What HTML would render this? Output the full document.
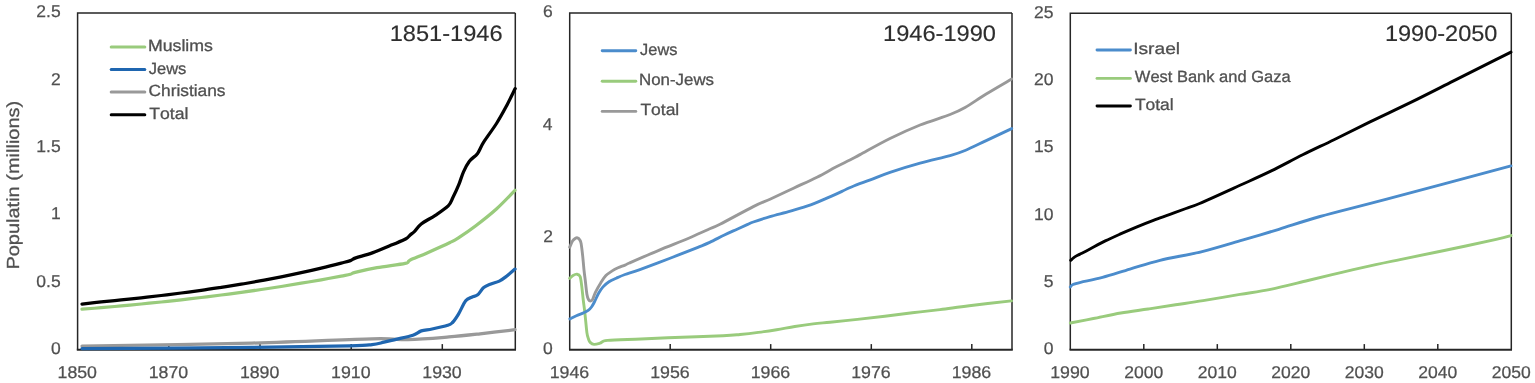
<!DOCTYPE html>
<html><head><meta charset="utf-8"><title>Population charts</title>
<style>
html,body{margin:0;padding:0;background:#fff;}
body{width:1535px;height:383px;overflow:hidden;}
svg{display:block;}
text{font-family:"Liberation Sans", "DejaVu Sans", sans-serif;font-kerning:none;text-rendering:geometricPrecision;}
.ax{font-size:17px;fill:#505050;stroke:#505050;stroke-width:0.25px;}
.ti{font-size:22.5px;fill:#2e2e2e;stroke:#2e2e2e;stroke-width:0.15px;}
.lg{font-size:16.2px;fill:#505050;stroke:#505050;stroke-width:0.3px;}
.yt{font-size:17.5px;fill:#505050;stroke:#555;stroke-width:0.3px;}
</style></head>
<body>
<svg width="1535" height="383" viewBox="0 0 1535 383">
<rect x="0" y="0" width="1535" height="383" fill="#fff"/>
<text x="50.95" y="354.10" class="ax" textLength="9.74" lengthAdjust="spacingAndGlyphs">0</text>
<text x="36.39" y="286.76" class="ax" textLength="24.34" lengthAdjust="spacingAndGlyphs">0.5</text>
<text x="51.12" y="219.42" class="ax" textLength="9.74" lengthAdjust="spacingAndGlyphs">1</text>
<text x="36.39" y="152.08" class="ax" textLength="24.34" lengthAdjust="spacingAndGlyphs">1.5</text>
<text x="51.14" y="84.74" class="ax" textLength="9.74" lengthAdjust="spacingAndGlyphs">2</text>
<text x="36.39" y="17.40" class="ax" textLength="24.34" lengthAdjust="spacingAndGlyphs">2.5</text>
<text x="57.55" y="378.20" class="ax" textLength="39.44" lengthAdjust="spacingAndGlyphs">1850</text>
<text x="148.74" y="378.20" class="ax" textLength="39.44" lengthAdjust="spacingAndGlyphs">1870</text>
<line x1="168.8" y1="349.7" x2="168.8" y2="344.1" stroke="#262626" stroke-width="1.5"/>
<text x="239.92" y="378.20" class="ax" textLength="39.44" lengthAdjust="spacingAndGlyphs">1890</text>
<line x1="260.0" y1="349.7" x2="260.0" y2="344.1" stroke="#262626" stroke-width="1.5"/>
<text x="331.11" y="378.20" class="ax" textLength="39.44" lengthAdjust="spacingAndGlyphs">1910</text>
<line x1="351.2" y1="349.7" x2="351.2" y2="344.1" stroke="#262626" stroke-width="1.5"/>
<text x="422.30" y="378.20" class="ax" textLength="39.44" lengthAdjust="spacingAndGlyphs">1930</text>
<line x1="442.3" y1="349.7" x2="442.3" y2="344.1" stroke="#262626" stroke-width="1.5"/>
<text x="543.05" y="354.10" class="ax" textLength="9.74" lengthAdjust="spacingAndGlyphs">0</text>
<text x="543.24" y="241.87" class="ax" textLength="9.74" lengthAdjust="spacingAndGlyphs">2</text>
<text x="542.87" y="129.63" class="ax" textLength="9.74" lengthAdjust="spacingAndGlyphs">4</text>
<text x="543.13" y="17.40" class="ax" textLength="9.74" lengthAdjust="spacingAndGlyphs">6</text>
<text x="549.65" y="378.20" class="ax" textLength="39.53" lengthAdjust="spacingAndGlyphs">1946</text>
<text x="650.17" y="378.20" class="ax" textLength="39.53" lengthAdjust="spacingAndGlyphs">1956</text>
<line x1="670.2" y1="349.7" x2="670.2" y2="344.1" stroke="#262626" stroke-width="1.5"/>
<text x="750.69" y="378.20" class="ax" textLength="39.53" lengthAdjust="spacingAndGlyphs">1966</text>
<line x1="770.7" y1="349.7" x2="770.7" y2="344.1" stroke="#262626" stroke-width="1.5"/>
<text x="851.21" y="378.20" class="ax" textLength="39.53" lengthAdjust="spacingAndGlyphs">1976</text>
<line x1="871.3" y1="349.7" x2="871.3" y2="344.1" stroke="#262626" stroke-width="1.5"/>
<text x="951.74" y="378.20" class="ax" textLength="39.53" lengthAdjust="spacingAndGlyphs">1986</text>
<line x1="971.8" y1="349.7" x2="971.8" y2="344.1" stroke="#262626" stroke-width="1.5"/>
<text x="1043.65" y="354.10" class="ax" textLength="9.74" lengthAdjust="spacingAndGlyphs">0</text>
<text x="1043.70" y="286.80" class="ax" textLength="9.74" lengthAdjust="spacingAndGlyphs">5</text>
<text x="1033.91" y="219.50" class="ax" textLength="19.48" lengthAdjust="spacingAndGlyphs">10</text>
<text x="1033.96" y="152.20" class="ax" textLength="19.48" lengthAdjust="spacingAndGlyphs">15</text>
<text x="1033.91" y="84.90" class="ax" textLength="19.48" lengthAdjust="spacingAndGlyphs">20</text>
<text x="1033.96" y="17.60" class="ax" textLength="19.48" lengthAdjust="spacingAndGlyphs">25</text>
<text x="1050.25" y="378.20" class="ax" textLength="39.44" lengthAdjust="spacingAndGlyphs">1990</text>
<text x="1124.22" y="378.20" class="ax" textLength="38.97" lengthAdjust="spacingAndGlyphs">2000</text>
<line x1="1143.8" y1="349.7" x2="1143.8" y2="344.1" stroke="#262626" stroke-width="1.5"/>
<text x="1197.72" y="378.20" class="ax" textLength="38.97" lengthAdjust="spacingAndGlyphs">2010</text>
<line x1="1217.3" y1="349.7" x2="1217.3" y2="344.1" stroke="#262626" stroke-width="1.5"/>
<text x="1271.22" y="378.20" class="ax" textLength="38.97" lengthAdjust="spacingAndGlyphs">2020</text>
<line x1="1290.8" y1="349.7" x2="1290.8" y2="344.1" stroke="#262626" stroke-width="1.5"/>
<text x="1344.72" y="378.20" class="ax" textLength="38.97" lengthAdjust="spacingAndGlyphs">2030</text>
<line x1="1364.3" y1="349.7" x2="1364.3" y2="344.1" stroke="#262626" stroke-width="1.5"/>
<text x="1418.22" y="378.20" class="ax" textLength="38.97" lengthAdjust="spacingAndGlyphs">2040</text>
<line x1="1437.8" y1="349.7" x2="1437.8" y2="344.1" stroke="#262626" stroke-width="1.5"/>
<text x="1491.72" y="378.20" class="ax" textLength="38.97" lengthAdjust="spacingAndGlyphs">2050</text>
<path d="M77.6,349.7 L77.6,13.0 L515.3,13.0" fill="none" stroke="#262626" stroke-width="1.5"/>
<path d="M515.3,13.0 L515.3,349.7" fill="none" stroke="#262626" stroke-width="1.5"/>
<path d="M76.8,349.7 L516.0,349.7" fill="none" stroke="#262626" stroke-width="2"/>
<path d="M569.7,349.7 L569.7,13.0 L1012.0,13.0" fill="none" stroke="#262626" stroke-width="1.5"/>
<path d="M1012.0,13.0 L1012.0,349.7" fill="none" stroke="#262626" stroke-width="1.5"/>
<path d="M569.0,349.7 L1012.8,349.7" fill="none" stroke="#262626" stroke-width="2"/>
<path d="M1070.3,349.7 L1070.3,13.2 L1511.3,13.2" fill="none" stroke="#262626" stroke-width="1.5"/>
<path d="M1511.3,13.2 L1511.3,349.7" fill="none" stroke="#262626" stroke-width="1.5"/>
<path d="M1069.5,349.7 L1512.0,349.7" fill="none" stroke="#262626" stroke-width="2"/>
<path d="M82.00,346.00 C110.32,345.52 203.57,344.30 251.90,343.10 C300.23,341.90 345.98,339.38 372.00,338.80 C398.02,338.22 395.18,339.92 408.00,339.60 C420.82,339.28 436.88,337.87 448.90,336.90 C460.92,335.93 469.08,335.00 480.10,333.80 C491.12,332.60 509.18,330.38 515.00,329.70" fill="none" stroke="#999999" stroke-width="3.25" stroke-linejoin="round" stroke-linecap="round"/>
<path d="M82.00,348.60 C110.32,348.40 207.30,347.87 251.90,347.40 C296.50,346.93 329.58,346.27 349.60,345.80 C369.62,345.33 366.27,345.20 372.00,344.60 C377.73,344.00 380.00,343.08 384.00,342.20 C388.00,341.32 391.18,340.47 396.00,339.30 C400.82,338.13 408.68,336.60 412.90,335.20 C417.12,333.80 418.10,331.93 421.30,330.90 C424.50,329.87 427.70,329.93 432.10,329.00 C436.50,328.07 444.30,326.38 447.70,325.30 C451.10,324.22 450.70,324.37 452.50,322.50 C454.30,320.63 456.30,317.72 458.50,314.10 C460.70,310.48 463.50,303.62 465.70,300.80 C467.90,297.98 469.70,298.20 471.70,297.20 C473.70,296.20 475.70,296.40 477.70,294.80 C479.70,293.20 481.50,289.40 483.70,287.60 C485.90,285.80 488.30,285.08 490.90,284.00 C493.50,282.92 496.70,282.38 499.30,281.10 C501.90,279.82 503.88,278.30 506.50,276.30 C509.12,274.30 513.58,270.30 515.00,269.10" fill="none" stroke="#1f66b0" stroke-width="3.25" stroke-linejoin="round" stroke-linecap="round"/>
<path d="M82.00,309.20 C85.20,308.95 94.67,308.25 101.20,307.70 C107.73,307.15 114.53,306.52 121.20,305.90 C127.87,305.28 134.53,304.65 141.20,304.00 C147.87,303.35 154.53,302.70 161.20,302.00 C167.87,301.30 174.53,300.55 181.20,299.80 C187.87,299.05 194.53,298.30 201.20,297.50 C207.87,296.70 214.53,295.85 221.20,295.00 C227.87,294.15 234.53,293.32 241.20,292.40 C247.87,291.48 254.53,290.48 261.20,289.50 C267.87,288.52 274.53,287.55 281.20,286.50 C287.87,285.45 294.53,284.32 301.20,283.20 C307.87,282.08 314.53,280.98 321.20,279.80 C327.87,278.62 336.33,277.02 341.20,276.10 C346.07,275.18 348.08,274.93 350.40,274.30 C352.72,273.67 350.67,273.42 355.10,272.30 C359.53,271.18 368.65,269.08 377.00,267.60 C385.35,266.12 399.72,264.63 405.20,263.40 C410.68,262.17 406.25,261.95 409.90,260.20 C413.55,258.45 420.42,255.85 427.10,252.90 C433.78,249.95 444.72,245.05 450.00,242.50 C455.28,239.95 454.50,240.40 458.80,237.60 C463.10,234.80 469.48,230.52 475.80,225.70 C482.12,220.88 490.17,214.60 496.70,208.70 C503.23,202.80 511.95,193.37 515.00,190.30" fill="none" stroke="#99cb7c" stroke-width="3.25" stroke-linejoin="round" stroke-linecap="round"/>
<path d="M82.00,304.10 C85.20,303.73 94.67,302.60 101.20,301.90 C107.73,301.20 114.53,300.58 121.20,299.90 C127.87,299.22 134.53,298.53 141.20,297.80 C147.87,297.07 154.53,296.30 161.20,295.50 C167.87,294.70 174.53,293.85 181.20,293.00 C187.87,292.15 194.53,291.33 201.20,290.40 C207.87,289.47 214.53,288.43 221.20,287.40 C227.87,286.37 234.53,285.32 241.20,284.20 C247.87,283.08 254.53,281.92 261.20,280.70 C267.87,279.48 274.53,278.23 281.20,276.90 C287.87,275.57 294.53,274.17 301.20,272.70 C307.87,271.23 314.53,269.70 321.20,268.10 C327.87,266.50 336.33,264.35 341.20,263.10 C346.07,261.85 347.97,261.47 350.40,260.60 C352.83,259.73 352.15,259.18 355.80,257.90 C359.45,256.62 366.15,255.12 372.30,252.90 C378.45,250.68 387.08,246.95 392.70,244.60 C398.32,242.25 403.13,240.37 406.00,238.80 C408.87,237.23 408.47,236.45 409.90,235.20 C411.33,233.95 412.72,233.17 414.60,231.30 C416.48,229.43 417.75,226.67 421.20,224.00 C424.65,221.33 430.80,218.32 435.30,215.30 C439.80,212.28 445.27,208.85 448.20,205.90 C451.13,202.95 451.13,201.13 452.90,197.60 C454.67,194.07 457.03,189.00 458.80,184.70 C460.57,180.40 461.73,175.72 463.50,171.80 C465.27,167.88 467.05,164.27 469.40,161.20 C471.75,158.13 475.25,156.53 477.60,153.40 C479.95,150.27 480.35,147.38 483.50,142.40 C486.65,137.42 492.77,129.38 496.50,123.50 C500.23,117.62 502.78,112.92 505.90,107.10 C509.02,101.28 513.65,91.68 515.20,88.60" fill="none" stroke="#000000" stroke-width="3.25" stroke-linejoin="round" stroke-linecap="round"/>
<path d="M569.70,278.40 C570.25,277.92 571.78,276.20 573.00,275.50 C574.22,274.80 575.82,274.03 577.00,274.20 C578.18,274.37 579.32,274.55 580.10,276.50 C580.88,278.45 581.18,282.07 581.70,285.90 C582.22,289.73 582.67,294.97 583.20,299.50 C583.73,304.03 584.28,307.58 584.90,313.10 C585.52,318.62 586.30,328.28 586.90,332.60 C587.50,336.92 587.95,337.37 588.50,339.00 C589.05,340.63 589.27,341.50 590.20,342.40 C591.13,343.30 592.47,344.27 594.10,344.40 C595.73,344.53 597.77,343.87 600.00,343.20 C602.23,342.53 600.67,341.10 607.50,340.40 C614.33,339.70 628.57,339.53 641.00,339.00 C653.43,338.47 668.42,337.73 682.10,337.20 C695.78,336.67 713.45,336.25 723.10,335.80 C732.75,335.35 734.13,335.07 740.00,334.50 C745.87,333.93 752.20,333.20 758.30,332.40 C764.40,331.60 770.52,330.68 776.60,329.70 C782.68,328.72 788.72,327.47 794.80,326.50 C800.88,325.53 807.23,324.62 813.10,323.90 C818.97,323.18 822.62,322.95 830.00,322.20 C837.38,321.45 848.27,320.40 857.40,319.40 C866.53,318.40 875.65,317.30 884.80,316.20 C893.95,315.10 903.10,313.90 912.30,312.80 C921.50,311.70 930.52,310.78 940.00,309.60 C949.48,308.42 957.28,307.15 969.20,305.70 C981.12,304.25 1004.45,301.70 1011.50,300.90" fill="none" stroke="#99cb7c" stroke-width="2.9" stroke-linejoin="round" stroke-linecap="round"/>
<path d="M569.90,318.90 C570.98,318.37 574.22,316.67 576.40,315.70 C578.58,314.73 581.03,313.98 583.00,313.10 C584.97,312.22 586.78,311.42 588.20,310.40 C589.62,309.38 590.47,308.40 591.50,307.00 C592.53,305.60 593.22,304.28 594.40,302.00 C595.58,299.72 597.20,295.78 598.60,293.30 C600.00,290.82 601.07,289.02 602.80,287.10 C604.53,285.18 606.75,283.28 609.00,281.80 C611.25,280.32 613.63,279.42 616.30,278.20 C618.97,276.98 621.18,275.90 625.00,274.50 C628.82,273.10 631.80,272.47 639.20,269.80 C646.60,267.13 659.62,262.25 669.40,258.50 C679.18,254.75 691.18,249.98 697.90,247.30 C704.62,244.62 705.28,244.45 709.70,242.40 C714.12,240.35 719.83,237.20 724.40,235.00 C728.97,232.80 733.22,230.97 737.10,229.20 C740.98,227.43 745.00,225.60 747.70,224.40 C750.40,223.20 749.58,223.30 753.30,222.00 C757.02,220.70 763.82,218.42 770.00,216.60 C776.18,214.78 783.62,213.05 790.40,211.10 C797.18,209.15 803.65,207.48 810.70,204.90 C817.75,202.32 825.90,198.58 832.70,195.60 C839.50,192.62 845.23,189.62 851.50,187.00 C857.77,184.38 863.88,182.35 870.30,179.90 C876.72,177.45 881.70,175.10 890.00,172.30 C898.30,169.50 910.08,165.88 920.10,163.10 C930.12,160.32 942.60,157.70 950.10,155.60 C957.60,153.50 959.08,153.00 965.10,150.50 C971.12,148.00 978.43,144.25 986.20,140.60 C993.97,136.95 1007.45,130.60 1011.70,128.60" fill="none" stroke="#4b8ccc" stroke-width="2.9" stroke-linejoin="round" stroke-linecap="round"/>
<path d="M569.70,247.20 C570.17,246.17 571.53,242.50 572.50,241.00 C573.47,239.50 574.67,238.73 575.50,238.20 C576.33,237.67 576.83,237.58 577.50,237.80 C578.17,238.02 578.90,238.53 579.50,239.50 C580.10,240.47 580.57,240.83 581.10,243.60 C581.63,246.37 582.22,251.70 582.70,256.10 C583.18,260.50 583.57,265.90 584.00,270.00 C584.43,274.10 584.82,276.67 585.30,280.70 C585.78,284.73 586.37,291.07 586.90,294.20 C587.43,297.33 587.90,298.37 588.50,299.50 C589.10,300.63 589.83,300.98 590.50,301.00 C591.17,301.02 591.68,301.05 592.50,299.60 C593.32,298.15 594.03,295.08 595.40,292.30 C596.77,289.52 598.95,285.68 600.70,282.90 C602.45,280.12 603.98,277.60 605.90,275.60 C607.82,273.60 610.18,272.20 612.20,270.90 C614.22,269.60 615.87,268.77 618.00,267.80 C620.13,266.83 623.10,265.90 625.00,265.10 C626.90,264.30 623.77,265.47 629.40,263.00 C635.03,260.53 649.02,254.38 658.80,250.30 C668.58,246.22 679.95,241.93 688.10,238.50 C696.25,235.07 702.38,232.07 707.70,229.70 C713.02,227.33 712.40,228.15 720.00,224.30 C727.60,220.45 744.97,210.78 753.30,206.60 C761.63,202.42 763.30,202.27 770.00,199.20 C776.70,196.13 785.67,191.87 793.50,188.20 C801.33,184.53 809.95,180.73 817.00,177.20 C824.05,173.67 830.32,169.87 835.80,167.00 C841.28,164.13 845.87,162.07 849.90,160.00 C853.93,157.93 853.32,158.18 860.00,154.60 C866.68,151.02 879.98,143.43 890.00,138.50 C900.02,133.57 910.08,129.00 920.10,125.00 C930.12,121.00 942.60,117.42 950.10,114.50 C957.60,111.58 959.08,110.92 965.10,107.50 C971.12,104.08 978.43,98.75 986.20,94.00 C993.97,89.25 1007.45,81.50 1011.70,79.00" fill="none" stroke="#999999" stroke-width="2.9" stroke-linejoin="round" stroke-linecap="round"/>
<path d="M1070.30,323.00 C1074.15,322.25 1084.98,320.17 1093.40,318.50 C1101.82,316.83 1111.67,314.58 1120.80,313.00 C1129.93,311.42 1139.07,310.37 1148.20,309.00 C1157.33,307.63 1166.45,306.20 1175.60,304.80 C1184.75,303.40 1192.37,302.33 1203.10,300.60 C1213.83,298.87 1228.77,296.28 1240.00,294.40 C1251.23,292.52 1259.18,291.62 1270.50,289.30 C1281.82,286.98 1296.02,283.33 1307.90,280.50 C1319.78,277.67 1330.50,274.93 1341.80,272.30 C1353.10,269.67 1366.00,266.82 1375.70,264.70 C1385.40,262.58 1388.57,261.97 1400.00,259.60 C1411.43,257.23 1428.27,253.87 1444.30,250.50 C1460.33,247.13 1485.08,241.88 1496.20,239.40 C1507.32,236.92 1508.53,236.23 1511.00,235.60" fill="none" stroke="#99cb7c" stroke-width="2.9" stroke-linejoin="round" stroke-linecap="round"/>
<path d="M1070.30,287.00 C1070.75,286.58 1071.28,285.28 1073.00,284.50 C1074.72,283.72 1075.68,283.48 1080.60,282.30 C1085.52,281.12 1094.27,279.60 1102.50,277.40 C1110.73,275.20 1120.42,271.95 1130.00,269.10 C1139.58,266.25 1147.98,263.22 1160.00,260.30 C1172.02,257.38 1188.38,254.95 1202.10,251.60 C1215.82,248.25 1229.50,243.92 1242.30,240.20 C1255.10,236.48 1265.95,233.25 1278.90,229.30 C1291.85,225.35 1302.03,221.53 1320.00,216.50 C1337.97,211.47 1354.87,207.53 1386.70,199.10 C1418.53,190.67 1490.28,171.43 1511.00,165.90" fill="none" stroke="#4b8ccc" stroke-width="2.9" stroke-linejoin="round" stroke-linecap="round"/>
<path d="M1070.70,260.40 C1071.22,259.93 1072.63,258.45 1073.80,257.60 C1074.97,256.75 1076.38,256.02 1077.70,255.30 C1079.02,254.58 1079.65,254.35 1081.70,253.30 C1083.75,252.25 1086.07,251.07 1090.00,249.00 C1093.93,246.93 1100.22,243.42 1105.30,240.90 C1110.38,238.38 1115.22,236.25 1120.50,233.90 C1125.78,231.55 1131.52,229.07 1137.00,226.80 C1142.48,224.53 1147.90,222.37 1153.40,220.30 C1158.90,218.23 1164.57,216.37 1170.00,214.40 C1175.43,212.43 1181.07,210.32 1186.00,208.50 C1190.93,206.68 1190.60,207.37 1199.60,203.50 C1208.60,199.63 1228.05,190.73 1240.00,185.30 C1251.95,179.87 1260.85,175.98 1271.30,170.90 C1281.75,165.82 1292.25,160.00 1302.70,154.80 C1313.15,149.60 1322.78,145.18 1334.00,139.70 C1345.22,134.22 1357.03,128.20 1370.00,121.90 C1382.97,115.60 1397.87,108.73 1411.80,101.90 C1425.73,95.07 1439.67,87.90 1453.60,80.90 C1467.53,73.90 1485.83,64.70 1495.40,59.90 C1504.97,55.10 1508.40,53.40 1511.00,52.10" fill="none" stroke="#000000" stroke-width="2.9" stroke-linejoin="round" stroke-linecap="round"/>
<text x="389.70" y="41.30" class="ti" textLength="112.83" lengthAdjust="spacingAndGlyphs">1851-1946</text>
<text x="883.10" y="41.30" class="ti" textLength="112.82" lengthAdjust="spacingAndGlyphs">1946-1990</text>
<text x="1384.91" y="41.30" class="ti" textLength="112.51" lengthAdjust="spacingAndGlyphs">1990-2050</text>
<line x1="111.2" y1="47.0" x2="144.8" y2="47.0" stroke="#99cb7c" stroke-width="3.0" stroke-linecap="round"/>
<text x="147.95" y="51.20" class="lg" textLength="64.99" lengthAdjust="spacingAndGlyphs">Muslims</text>
<line x1="111.2" y1="69.6" x2="144.8" y2="69.6" stroke="#1f66b0" stroke-width="3.0" stroke-linecap="round"/>
<text x="148.74" y="73.80" class="lg" textLength="37.66" lengthAdjust="spacingAndGlyphs">Jews</text>
<line x1="111.2" y1="92.1" x2="144.8" y2="92.1" stroke="#999999" stroke-width="3.0" stroke-linecap="round"/>
<text x="148.52" y="96.30" class="lg" textLength="77.01" lengthAdjust="spacingAndGlyphs">Christians</text>
<line x1="111.2" y1="114.7" x2="144.8" y2="114.7" stroke="#000000" stroke-width="3.0" stroke-linecap="round"/>
<text x="149.20" y="118.90" class="lg" textLength="39.17" lengthAdjust="spacingAndGlyphs">Total</text>
<line x1="602.2" y1="50.8" x2="635.8" y2="50.8" stroke="#4b8ccc" stroke-width="2.9" stroke-linecap="round"/>
<text x="640.14" y="54.70" class="lg" textLength="37.25" lengthAdjust="spacingAndGlyphs">Jews</text>
<line x1="602.2" y1="81.3" x2="635.8" y2="81.3" stroke="#99cb7c" stroke-width="2.9" stroke-linecap="round"/>
<text x="639.02" y="85.20" class="lg" textLength="74.99" lengthAdjust="spacingAndGlyphs">Non-Jews</text>
<line x1="602.2" y1="111.4" x2="635.8" y2="111.4" stroke="#999999" stroke-width="2.9" stroke-linecap="round"/>
<text x="640.41" y="115.30" class="lg" textLength="38.86" lengthAdjust="spacingAndGlyphs">Total</text>
<line x1="1097.0" y1="50.0" x2="1130.4" y2="50.0" stroke="#4b8ccc" stroke-width="2.9" stroke-linecap="round"/>
<text x="1133.23" y="53.90" class="lg" textLength="46.85" lengthAdjust="spacingAndGlyphs">Israel</text>
<line x1="1097.0" y1="78.4" x2="1130.4" y2="78.4" stroke="#99cb7c" stroke-width="2.9" stroke-linecap="round"/>
<text x="1134.83" y="82.30" class="lg" textLength="155.77" lengthAdjust="spacingAndGlyphs">West Bank and Gaza</text>
<line x1="1097.0" y1="106.0" x2="1130.4" y2="106.0" stroke="#000000" stroke-width="2.9" stroke-linecap="round"/>
<text x="1134.91" y="109.90" class="lg" textLength="38.76" lengthAdjust="spacingAndGlyphs">Total</text>
<g transform="translate(18.8,268) rotate(-90)"><text x="-1.64" y="0.00" class="yt" textLength="168.88" lengthAdjust="spacingAndGlyphs">Populatin (millions)</text></g>
</svg>
</body></html>
